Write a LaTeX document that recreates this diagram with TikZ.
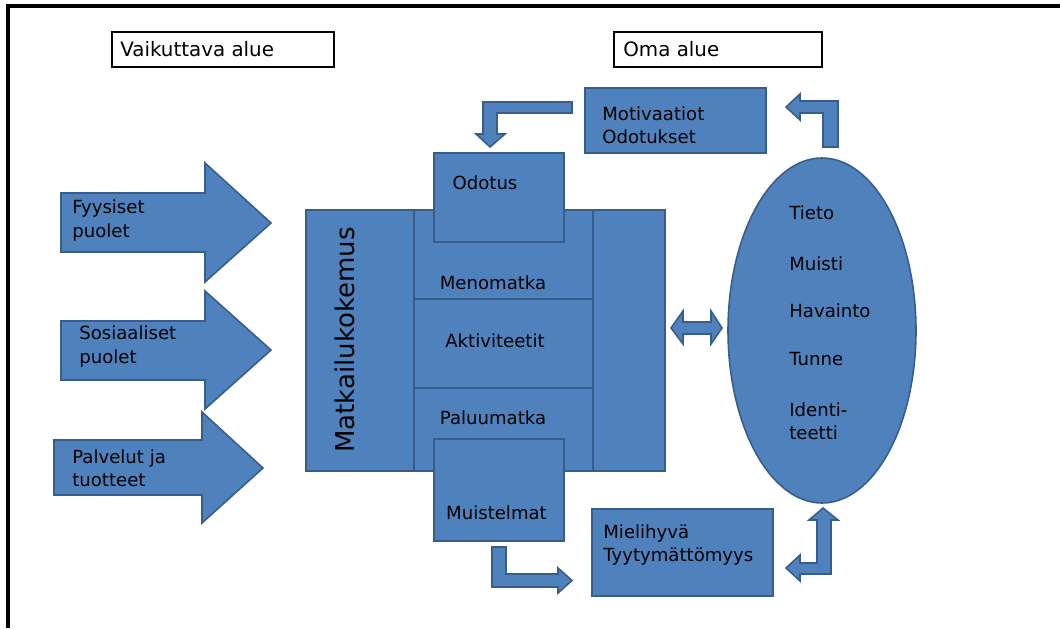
\documentclass[tikz,border=0pt]{standalone}
\usepackage{fontspec}
\setmainfont{DejaVu Sans}
\usepackage{tikz}
\usetikzlibrary{shapes.geometric, fit}
\usepackage{xcolor}
\definecolor{boxblue}{RGB}{79, 129, 189}
\definecolor{edgeblue}{RGB}{56, 93, 138}

\begin{document}
\begin{tikzpicture}[
    x=0.02cm, y=-0.02cm,
    box/.style={rectangle, draw=edgeblue, fill=boxblue, line width=0.9pt, inner sep=0pt},
    blockarrow/.style={draw=edgeblue, fill=boxblue, line width=0.9pt},
    headbox/.style={rectangle, draw=black, line width=0.6pt, inner sep=0pt},
    txt/.style={anchor=west, align=left, inner sep=0pt, font=\fontsize{10.3}{13.2}\selectfont}
]
    \useasboundingbox (0,0) rectangle (1060,628);
    \draw[line width=1.8pt] (8,628) -- (8,6) -- (1060,6);

    % area headings
    \node[headbox, fit={(112,32) (334,67)}] (vaik) {};
    \node[txt, font=\fontsize{11.3}{13}\selectfont] (vaiktxt) at (120,49.5) {Vaikuttava alue};
    \node[headbox, fit={(614,32) (822,67)}] (oma) {};
    \node[txt, font=\fontsize{11.3}{13}\selectfont] (omatxt) at (623,49.5) {Oma alue};

    % incoming arrows
    \draw[blockarrow] (61,193) -- (205,193) -- (205,163) -- (271,223) -- (205,282) -- (205,252) -- (61,252) -- cycle;
    \draw[blockarrow] (61,321) -- (205,321) -- (205,291) -- (271,350) -- (205,409) -- (205,380) -- (61,380) -- cycle;
    \draw[blockarrow] (54,440) -- (202,440) -- (202,412) -- (263,468) -- (202,523) -- (202,495) -- (54,495) -- cycle;
    \node[txt] (fyys) at (72,220.5) {Fyysiset\\puolet};
    \node[txt] (sos) at (79,346.5) {Sosiaaliset\\puolet};
    \node[txt] (palv) at (72,468) {Palvelut ja\\tuotteet};

    % travel experience block
    \node[box, fit={(306,210) (414,471)}] (vasen) {};
    \node[box, fit={(593,210) (665,471)}] (oikea) {};
    \node[box, fit={(414,210) (593,299)}] (meno) {};
    \node[box, fit={(414,299) (593,388)}] (akt) {};
    \node[box, fit={(414,388) (593,471)}] (paluu) {};
    \node[box, fit={(434,153) (564,242)}] (odotus) {};
    \node[box, fit={(434,439) (564,541)}] (muist) {};
    \node[rotate=90, inner sep=0pt, font=\fontsize{14.8}{16}\selectfont] (matk) at (345,340) {Matkailukokemus};
    \node[txt, anchor=center] (menotxt) at (493,283) {Menomatka};
    \node[txt, anchor=center] (akttxt) at (495,341) {Aktiviteetit};
    \node[txt, anchor=center] (paluutxt) at (493,418) {Paluumatka};
    \node[txt, anchor=center] (odotustxt) at (485,183) {Odotus};
    \node[txt, anchor=center] (muisttxt) at (496.5,513) {Muistelmat};

    % own area
    \node[box, ellipse, minimum width=188*0.02cm, minimum height=345*0.02cm] (mieli) at (822,330.5) {};
    \node[txt] (tieto) at (789,213) {Tieto};
    \node[txt] (muisti) at (789,264) {Muisti};
    \node[txt] (hav) at (789,311) {Havainto};
    \node[txt] (tunne) at (789,359) {Tunne};
    \node[txt] (ident) at (789,421) {Identi-\\teetti};

    \node[box, fit={(585,88) (766,153)}] (motiv) {};
    \node[txt] (motivtxt) at (602,125) {Motivaatiot\\Odotukset};
    \node[box, fit={(592,509) (773,596)}] (tyyt) {};
    \node[txt] (tyyttxt) at (603,545) {Mielihyvä\\Tyytymättömyys};

    % bent and double arrows
    \draw[blockarrow] (572,102) -- (483,102) -- (483,134) -- (476,134) -- (490,147) -- (505,134) -- (497,134) -- (497,113) -- (572,113) -- cycle;
    \draw[blockarrow] (823,147) -- (823,113) -- (800,113) -- (800,120) -- (786,107) -- (800,94) -- (800,101) -- (838,101) -- (838,147) -- cycle;
    \draw[blockarrow] (492,547) -- (492,587) -- (558,587) -- (558,593) -- (572,580.5) -- (558,568) -- (558,574) -- (506,574) -- (506,547) -- cycle;
    \draw[blockarrow] (823,508) -- (838,520) -- (831,520) -- (831,574) -- (800,574) -- (800,581) -- (786,568) -- (800,555) -- (800,563) -- (817,563) -- (817,520) -- (809,520) -- cycle;
    \draw[blockarrow] (671,328) -- (683,311) -- (683,322) -- (711,322) -- (711,311) -- (722,328) -- (711,344) -- (711,334) -- (683,334) -- (683,344) -- cycle;
\end{tikzpicture}
\end{document}
